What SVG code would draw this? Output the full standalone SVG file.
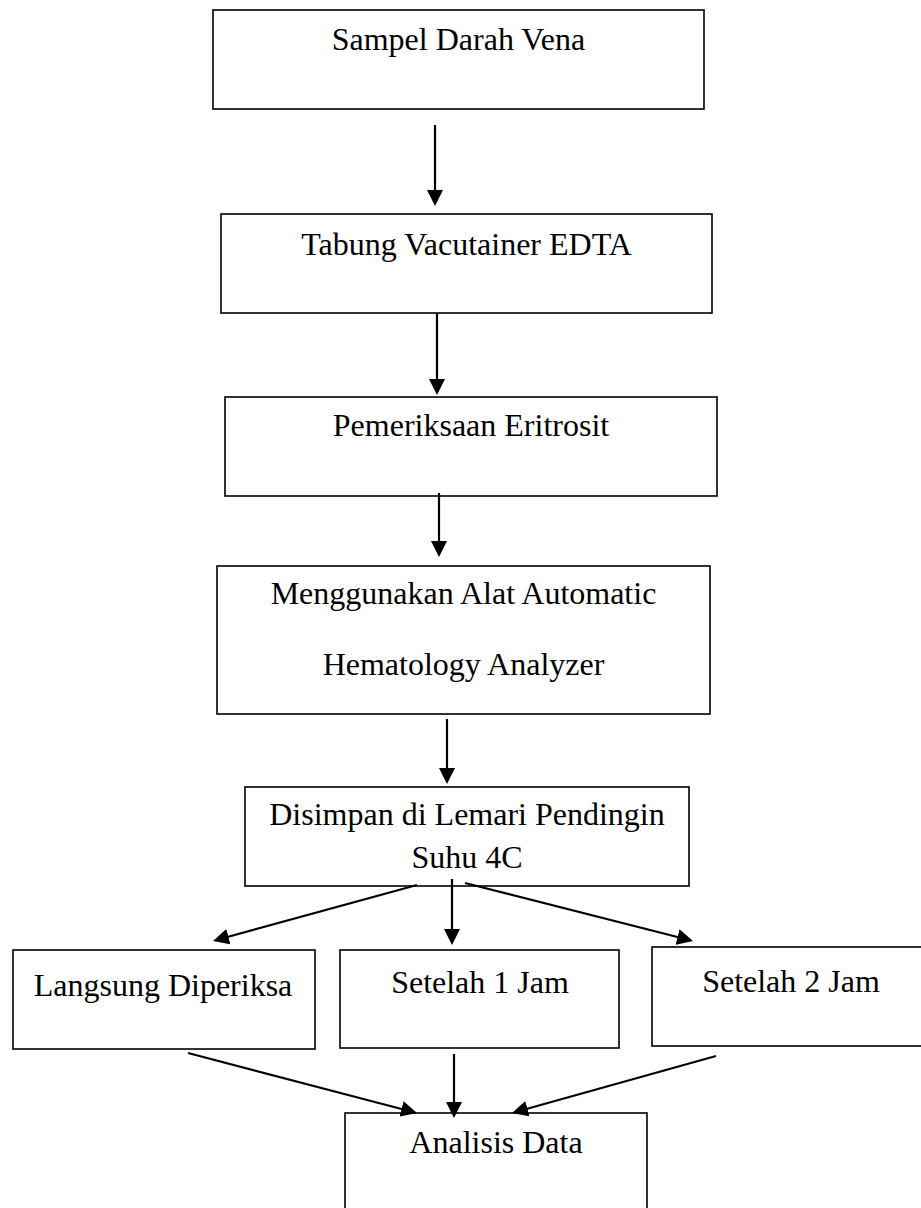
<svg xmlns="http://www.w3.org/2000/svg" width="921" height="1208" viewBox="0 0 921 1208">
<style>
.box{fill:#fff;stroke:#000;stroke-width:1.6}
.lbl{font-family:"Liberation Serif","Times New Roman",serif;font-size:32px;fill:#000;text-anchor:middle}
.conn{stroke:#000;stroke-width:2.2;fill:none;marker-end:url(#ah)}
</style>
<defs>
<marker id="ah" markerUnits="userSpaceOnUse" markerWidth="16" markerHeight="16" refX="4" refY="8" orient="auto">
<path d="M0,0 L16,8 L0,16 z" fill="#000"/>
</marker>
</defs>
<rect width="921" height="1208" fill="#fff"/>
<g id="n1"><rect class="box" x="213" y="10" width="491" height="99"/><text class="lbl" x="458.5" y="50">Sampel Darah Vena</text></g>
<g id="n2"><rect class="box" x="221" y="214" width="491" height="99"/><text class="lbl" x="466.5" y="255">Tabung Vacutainer EDTA</text></g>
<g id="n3"><rect class="box" x="225" y="397" width="492" height="99"/><text class="lbl" x="471" y="436">Pemeriksaan Eritrosit</text></g>
<g id="n4"><rect class="box" x="217" y="566" width="493" height="148"/><text class="lbl" x="463.5" y="604">Menggunakan Alat Automatic</text><text class="lbl" x="463.5" y="675">Hematology Analyzer</text></g>
<g id="n5"><rect class="box" x="245" y="787" width="444" height="99"/><text class="lbl" x="467" y="825">Disimpan di Lemari Pendingin</text><text class="lbl" x="467" y="868">Suhu 4C</text></g>
<g id="n6"><rect class="box" x="13" y="950" width="302" height="99"/><text class="lbl" x="163" y="996">Langsung Diperiksa</text></g>
<g id="n7"><rect class="box" x="340" y="950" width="279" height="98"/><text class="lbl" x="480" y="993">Setelah 1 Jam</text></g>
<g id="n8"><rect class="box" x="652" y="947" width="280" height="99"/><text class="lbl" x="791" y="992">Setelah 2 Jam</text></g>
<g id="n9"><rect class="box" x="345" y="1113" width="302" height="110"/><text class="lbl" x="496" y="1153">Analisis Data</text></g>
<g id="connectors">
<path class="conn" d="M435,125 L435,194"/>
<path class="conn" d="M437,313 L437,383"/>
<path class="conn" d="M439,493 L439,545"/>
<path class="conn" d="M447,719 L447,772"/>
<path class="conn" d="M417,885 L224.6,937.8"/>
<path class="conn" d="M452,879 L452,933"/>
<path class="conn" d="M465,883 L681.4,938"/>
<path class="conn" d="M188,1053 L405.4,1110"/>
<path class="conn" d="M454,1054 L454,1106"/>
<path class="conn" d="M716,1056 L523.6,1109.8"/>
</g>
</svg>
